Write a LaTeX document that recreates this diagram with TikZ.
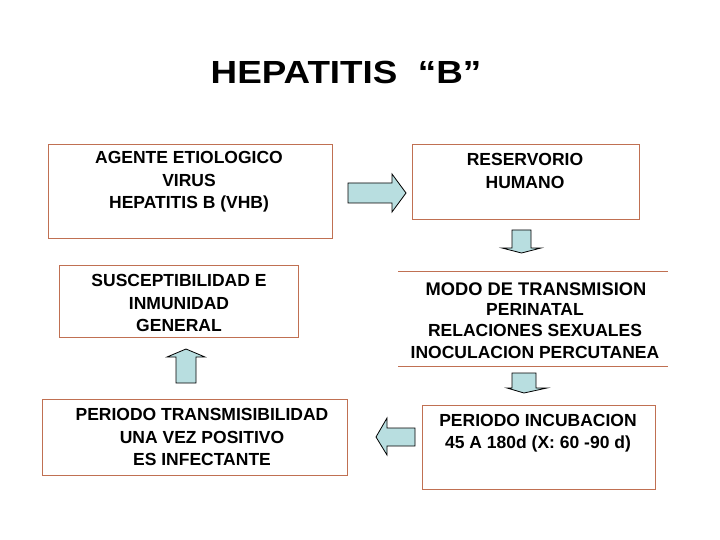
\documentclass[tikz,border=0pt]{standalone}
\usepackage{fontspec}
\setmainfont{Liberation Sans}
\usepackage{tikz}
\usetikzlibrary{positioning}
\definecolor{boxbrown}{RGB}{192,112,82}
\definecolor{arrowblue}{RGB}{184,222,224}
\newcommand{\bodyfont}{\fontsize{17.5}{22.3}\selectfont\bfseries}

\begin{document}
\begin{tikzpicture}[x=1pt, y=-1pt,
    box/.style={draw=boxbrown, line width=1pt, rectangle, inner sep=0pt},
    txt/.style={align=center, font=\bodyfont, inner sep=0pt},
    fatarrow/.style={draw=black, fill=arrowblue, line width=0.8pt, line join=miter}]
  \useasboundingbox[fill=white] (0,0) rectangle (720,540);

  % Title
  \node[font=\fontsize{32}{36}\selectfont\bfseries, xscale=1.15] (title) at (346,72) {HEPATITIS \ “B”};

  % Boxes
  \draw[box] (48,145) rectangle (332,238);
  \node[txt] (agente) at (189,182) {AGENTE ETIOLOGICO\\VIRUS\\HEPATITIS B (VHB)};

  \draw[box] (412,145) rectangle (639,220);
  \node[txt] (reservorio) at (525,171) {RESERVORIO\\HUMANO};

  \draw[box] (59,265) rectangle (298,337);
  \node[txt] (suscept) at (179,303) {SUSCEPTIBILIDAD E\\INMUNIDAD\\GENERAL};

  \draw[box] (398,271) -- (668,271);
  \draw[box] (398,366) -- (668,366);
  \node[txt, font=\fontsize{18.3}{22}\selectfont\bfseries] (modo) at (536,289) {MODO DE TRANSMISION};
  \node[txt, font=\fontsize{17.5}{21.5}\selectfont\bfseries] (modovias) at (535,331) {PERINATAL\\RELACIONES SEXUALES\\INOCULACION PERCUTANEA};

  \draw[box] (422,405) rectangle (655,489);
  \node[txt] (incubacion) at (538,433) {PERIODO INCUBACION\\45 A 180d (X: 60 -90 d)};

  \draw[box] (42,399) rectangle (347,475);
  \node[txt] (transmis) at (202,437) {PERIODO TRANSMISIBILIDAD\\UNA VEZ POSITIVO\\ES INFECTANTE};

  % Block arrows
  \draw[fatarrow] (348,183) -- (392,183) -- (392,174) -- (406,193) -- (392,212) -- (392,203) -- (348,203) -- cycle;
  \draw[fatarrow] (512,230) -- (531,230) -- (531,248) -- (541,248) -- (521.5,253) -- (502,248) -- (512,248) -- cycle;
  \draw[fatarrow] (512,373) -- (536,373) -- (536,388) -- (547,388) -- (524,393) -- (507,388) -- (512,388) -- cycle;
  \draw[fatarrow] (415,428) -- (387,428) -- (387,418) -- (376,437) -- (387,455) -- (387,446) -- (415,446) -- cycle;
  \draw[fatarrow] (176,383) -- (196,383) -- (196,357) -- (205,357) -- (186,349) -- (167,357) -- (176,357) -- cycle;
\end{tikzpicture}
\end{document}
